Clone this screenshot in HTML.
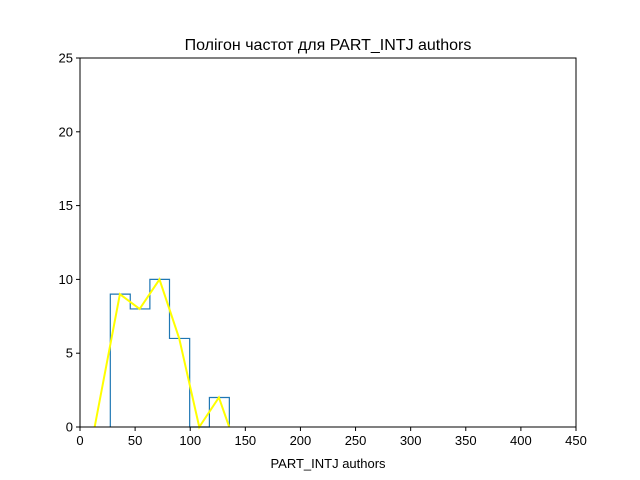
<!DOCTYPE html>
<html><head><meta charset="utf-8"><style>
html,body{margin:0;padding:0;background:#fff;}
svg{display:block;font-family:"Liberation Sans","DejaVu Sans",sans-serif;}
</style></head><body>
<svg id="chart" width="640" height="480" viewBox="0 0 640 480">
<rect x="0" y="0" width="640" height="480" fill="#fff"/>
<text x="328" y="50" text-anchor="middle" font-size="16">Полігон частот для PART_INTJ authors</text>
<g id="plot"></g>
<rect x="80" y="58" width="496" height="369" fill="none" stroke="#000" stroke-width="1"/>
<text x="328" y="468" text-anchor="middle" font-size="13">PART_INTJ authors</text>
</svg>
<script>
const binEdges = [27.5, 45.6, 63.4, 81.2, 99.5, 117.4, 135.5];
const binCounts = [9, 8, 10, 6, 0, 2];
const polyX = [13.3, 36.2, 54.1, 72.1, 90.0, 108.2, 126.0, 135.4];
const polyY = [0, 9, 8, 10, 6, 0, 2, 0];
const xTicks = [0, 50, 100, 150, 200, 250, 300, 350, 400, 450];
const yTicks = [0, 5, 10, 15, 20, 25];

const L=80,R=576,T=58,B=427;
const xs=v=>L+(v-0)/450*(R-L);
const ys=v=>B-(v/25)*(B-T);
const ns="http://www.w3.org/2000/svg";
const g=document.getElementById('plot');
function mk(t,a){const e=document.createElementNS(ns,t);for(const k in a)e.setAttribute(k,a[k]);g.appendChild(e);return e;}

// step histogram
let d=`M${xs(binEdges[0])},${ys(0)}`;
binCounts.forEach((c,i)=>{d+=` L${xs(binEdges[i])},${ys(c)} L${xs(binEdges[i+1])},${ys(c)}`;});
d+=` L${xs(binEdges[binEdges.length-1])},${ys(0)}`;
const h=mk('path',{d:d,fill:'none',stroke:'#1f77b4','stroke-width':1.2});



const pts=polyX.map((x,i)=>xs(x)+','+ys(polyY[i])).join(' ');
const p=mk('polyline',{points:pts,fill:'none',stroke:'#ffff00','stroke-width':2});



xTicks.forEach(v=>{
  const l=mk('line',{x1:xs(v),x2:xs(v),y1:B,y2:B+4,stroke:'#000'});
  
  
  const t=mk('text',{x:xs(v),y:B+18,'text-anchor':'middle','font-size':13});
  
  
  t.textContent=v;
});
yTicks.forEach(v=>{
  const l=mk('line',{x1:L-4,x2:L,y1:ys(v),y2:ys(v),stroke:'#000'});
  
  
  const t=mk('text',{x:L-7,y:ys(v)+4.5,'text-anchor':'end','font-size':13});
  
  
  t.textContent=v;
});
</script>
</body></html>
